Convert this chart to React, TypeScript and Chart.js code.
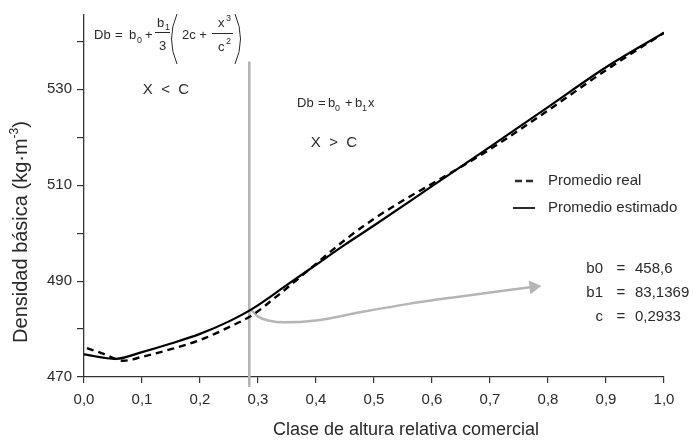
import React, { useEffect, useRef } from "react";
import { Chart, registerables } from "chart.js";

Chart.register(...registerables);

// ---- data ----
const estX = [0.0, 0.055, 0.1, 0.15, 0.2, 0.25, 0.29, 0.35, 0.4, 0.45, 0.5, 0.6, 0.7, 0.8, 0.9, 1.0];
const estY = [474.7, 473.8, 475.2, 477.0, 479.0, 481.6, 484.2, 489.2, 493.4, 497.6, 501.6, 509.8, 518.0, 526.3, 534.6, 541.8];

const realX = [0.005, 0.03, 0.068, 0.1, 0.15, 0.2, 0.25, 0.29, 0.33, 0.4, 0.45, 0.5, 0.55, 0.6, 0.7, 0.8, 0.9, 1.0];
const realY = [476.0, 475.0, 473.4, 474.2, 475.8, 477.7, 480.4, 482.9, 486.6, 493.6, 498.6, 503.0, 506.8, 510.3, 517.5, 525.6, 534.0, 541.8];

const arrowX = [0.288, 0.3, 0.318, 0.345, 0.4, 0.476, 0.557, 0.643, 0.729, 0.775];
const arrowY = [484.0, 482.6, 481.8, 481.4, 481.8, 483.5, 485.2, 486.7, 488.1, 488.8];

const cutX = [0.285, 0.285];
const cutY = [467.9, 535.8];

const xTicks = [0, 0.1, 0.2, 0.3, 0.4, 0.5, 0.6, 0.7, 0.8, 0.9, 1.0];
const yTicks = [470, 480, 490, 500, 510, 520, 530, 540];
const yLabeled = [470, 490, 510, 530];

const legendLabels = ["Promedio real", "Promedio estimado"];
const coefNames = ["b0", "b1", "c"];
const coefValues = ["458,6", "83,1369", "0,2933"];
const xTitle = "Clase de altura relativa comercial";
const yTitleMain = "Densidad básica (kg·m";
const yTitleSup = "-3";
const yTitleEnd = ")";

const FONT = '"Liberation Sans", Arial, Helvetica, sans-serif';
const INK = "#2a2a2a";

const pts = (xs: number[], ys: number[]) => xs.map((x, i) => ({ x, y: ys[i] }));

const textPlugin = {
  id: "texts",
  afterDraw(chart: any) {
    const ctx: CanvasRenderingContext2D = chart.ctx;
    const t = (s: string, x: number, y: number, size: number, align: CanvasTextAlign = "left", base: CanvasTextBaseline = "alphabetic") => {
      ctx.font = `${size}px ${FONT}`;
      ctx.textAlign = align;
      ctx.textBaseline = base;
      ctx.fillText(s, x, y);
    };
    const line = (x1: number, y1: number, x2: number, y2: number, w = 1) => {
      ctx.beginPath();
      ctx.lineWidth = w;
      ctx.moveTo(x1, y1);
      ctx.lineTo(x2, y2);
      ctx.stroke();
    };
    ctx.save();
    ctx.fillStyle = INK;
    ctx.strokeStyle = INK;

    // formula 1
    t("Db", 94, 39, 13);
    t("=", 115, 39, 13);
    t("b", 129, 39, 13);
    t("0", 137, 43, 9);
    t("+", 145, 39, 13);
    t("b", 157, 27, 13);
    t("1", 165, 30, 9);
    line(155, 32.5, 170, 32.5, 1);
    t("3", 159, 50, 13);
    ctx.beginPath();
    ctx.lineWidth = 1;
    ctx.moveTo(177, 14);
    ctx.quadraticCurveTo(166, 39, 177, 64);
    ctx.stroke();
    t("2c +", 182, 39, 13);
    t("x", 218, 27, 13);
    t("3", 226, 21, 9);
    line(212, 33.5, 233, 33.5, 1);
    t("c", 218, 51, 13);
    t("2", 226, 44, 9);
    ctx.beginPath();
    ctx.moveTo(235, 14);
    ctx.quadraticCurveTo(246, 39, 235, 64);
    ctx.stroke();
    t("X  <  C", 166, 94, 15, "center");

    // formula 2
    t("Db", 297, 107, 13);
    t("=", 318, 107, 13);
    t("b", 328, 107, 13);
    t("0", 335, 111, 9);
    t("+", 345, 107, 13);
    t("b", 355, 107, 13);
    t("1", 362, 111, 9);
    t("x", 368, 107, 13);
    t("X  >  C", 334, 147, 15, "center");

    // legend
    ctx.save();
    ctx.setLineDash([7, 4]);
    line(515, 181, 534, 181, 2.5);
    ctx.restore();
    line(513, 208, 535, 208, 2);
    t(legendLabels[0], 548, 181, 15, "left", "middle");
    t(legendLabels[1], 548, 208, 15, "left", "middle");

    // coefficients
    coefNames.forEach((s, i) => {
      const y = 269 + i * 24;
      t(s, 603, y, 15, "right", "middle");
      t("=", 621, y, 15, "center", "middle");
      t(coefValues[i], 635, y, 15, "left", "middle");
    });

    // axis titles
    t(xTitle, 406, 430, 18, "center", "middle");
    ctx.save();
    ctx.translate(21, 232);
    ctx.rotate(-Math.PI / 2);
    ctx.font = `20px ${FONT}`;
    const w1 = ctx.measureText(yTitleMain).width;
    const w3 = ctx.measureText(yTitleEnd).width;
    ctx.font = `12px ${FONT}`;
    const w2 = ctx.measureText(yTitleSup).width;
    const start = -(w1 + w2 + w3) / 2;
    t(yTitleMain, start, 0, 20, "left", "middle");
    t(yTitleSup, start + w1, -6, 12, "left", "middle");
    t(yTitleEnd, start + w1 + w2, 0, 20, "left", "middle");
    ctx.restore();

    ctx.restore();
  },
};

export default function App() {
  const ref = useRef<HTMLCanvasElement | null>(null);
  useEffect(() => {
    if (!ref.current) return;
    const gray = "#b5b5b5";
    const n = arrowX.length;
    const chart = new Chart(ref.current, {
      type: "line",
      data: {
        datasets: [
          {
            label: legendLabels[1],
            data: pts(estX, estY),
            borderColor: "#000",
            borderWidth: 2.2,
            pointRadius: 0,
            cubicInterpolationMode: "monotone",
            order: 0,
          },
          {
            label: legendLabels[0],
            data: pts(realX, realY),
            borderColor: "#000",
            borderWidth: 2.4,
            borderDash: [7, 5],
            pointRadius: 0,
            cubicInterpolationMode: "monotone",
            order: 1,
          },
          {
            label: "arrow",
            data: pts(arrowX, arrowY),
            borderColor: gray,
            backgroundColor: gray,
            borderWidth: 2.5,
            pointRadius: arrowX.map((_, i) => (i === n - 1 ? 8 : 0)),
            pointStyle: "triangle",
            pointRotation: 83,
            pointBorderWidth: 0,
            cubicInterpolationMode: "monotone",
            order: 2,
          },
          {
            label: "c",
            data: pts(cutX, cutY),
            borderColor: gray,
            borderWidth: 2.6,
            pointRadius: 0,
            clip: false as any,
            order: 3,
          },
        ],
      },
      options: {
        responsive: false,
        animation: false,
        events: [],
        layout: { padding: { left: 0, right: 29, top: 15, bottom: 0 } },
        plugins: { legend: { display: false }, tooltip: { enabled: false }, title: { display: false } },
        scales: {
          x: {
            type: "linear",
            min: 0,
            max: 1,
            afterBuildTicks: (s: any) => {
              s.ticks = xTicks.map((v) => ({ value: v }));
            },
            afterFit: (s: any) => {
              s.height = 64;
            },
            grid: { drawOnChartArea: false, drawTicks: true, tickLength: 6, color: "#333", lineWidth: 1.2 },
            border: { display: true, color: "#333", width: 1.3 },
            ticks: {
              padding: 8,
              color: INK,
              font: { family: FONT, size: 15 },
              maxRotation: 0,
              autoSkip: false,
              callback: (v: any) => Number(v).toFixed(1).replace(".", ","),
            },
          },
          y: {
            type: "linear",
            min: 470,
            max: 545.5,
            afterBuildTicks: (s: any) => {
              s.ticks = yTicks.map((v) => ({ value: v }));
            },
            afterFit: (s: any) => {
              s.width = 84;
            },
            grid: { drawOnChartArea: false, drawTicks: true, tickLength: 7, color: "#333", lineWidth: 1.2 },
            border: { display: true, color: "#333", width: 1.3 },
            ticks: {
              padding: 5,
              color: INK,
              font: { family: FONT, size: 15 },
              autoSkip: false,
              callback: (v: any) => (yLabeled.includes(Number(v)) ? String(v) : ""),
            },
          },
        },
      },
      plugins: [textPlugin],
    } as any);
    return () => chart.destroy();
  }, []);
  return (
    <div style={{ position: "fixed", left: 0, top: 0, width: 693, height: 441, background: "#fff" }}>
      <canvas ref={ref} width={693} height={441} />
    </div>
  );
}
